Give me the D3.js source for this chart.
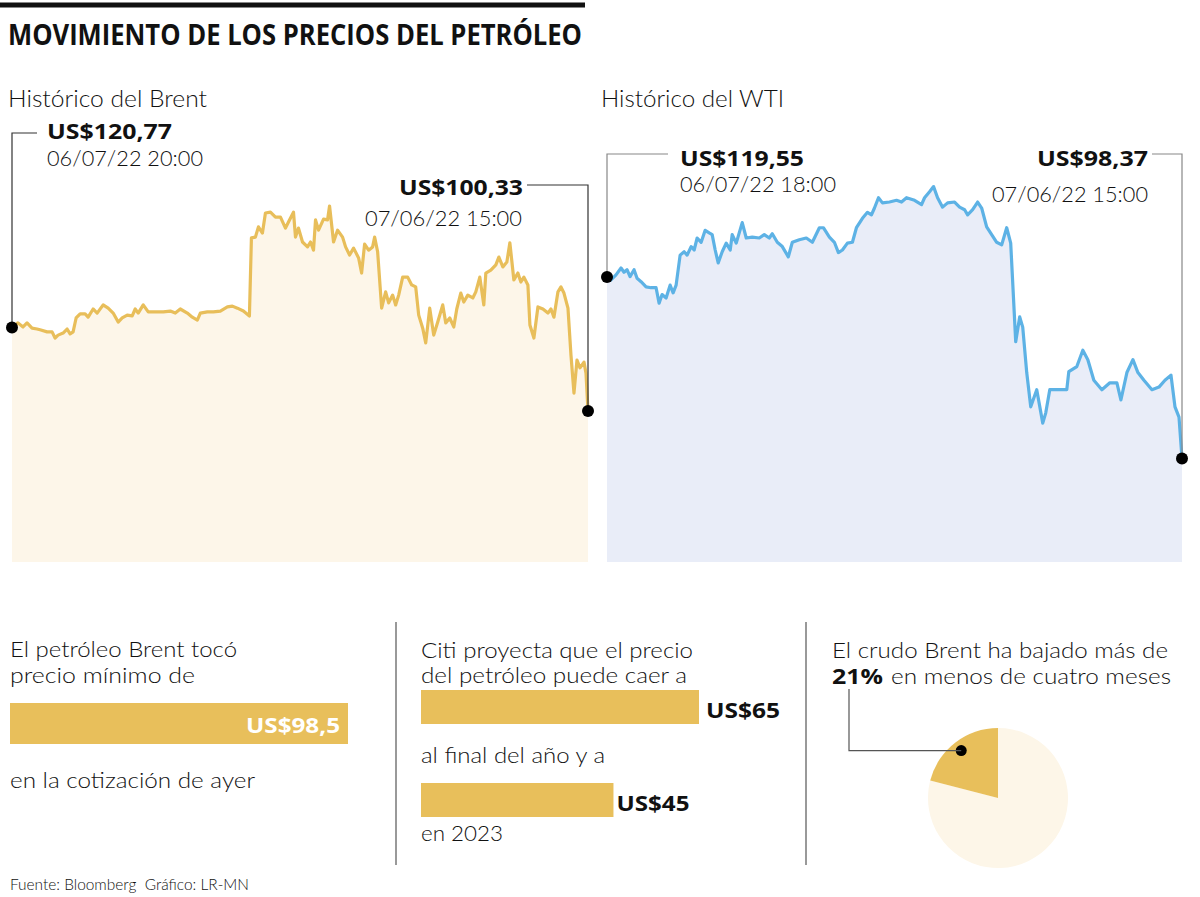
<!DOCTYPE html>
<html>
<head>
<meta charset="utf-8">
<script src="https://cdn.jsdelivr.net/npm/d3@7"></script>
<style>
  body { margin: 0; background: #fff; }
  text { font-family: "Open Sans", "Noto Sans", sans-serif; fill: #111; }
  text.light { font-family: "Lato", "Open Sans", sans-serif; font-weight: 300; }
</style>
</head>
<body>
<script>
// Histórico del Brent: t = muestra (posición en el periodo), precio en US$
const brentT = [0,6,11,15,20,25,28,35,40,43,46,51,55,58,61,64,68,73,76,81,
  85,91,96,101,106,110,115,120,123,126,131,136,145,151,158,163,168,175,180,185,
  188,195,201,208,215,220,225,231,237,239,243,246,250,253,258,263,268,273,276,281,
  283,286,290,295,298,301,303,306,311,315,317,321,325,330,333,337,341,346,349,352,
  356,360,362,365,369,373,376,380,383,386,390,395,399,403,406,410,413,417,421,425,
  430,433,437,441,444,448,451,455,460,463,467,471,473,478,483,486,490,494,497,501,
  505,508,511,515,517,521,525,530,535,538,541,545,548,551,555,558,561,564,567,571,
  573,575];
const brentP = [120.77,121.9,120.9,121.9,120.6,120.4,120.2,119.7,119.7,118.2,
  118.9,119.4,120.4,119.2,119.7,123.1,124.1,124.1,123.3,125.3,
  124.3,126.3,125.5,124.3,122.1,123.1,123.8,123.6,125.3,124.3,
  126.3,124.6,124.6,124.6,124.8,124.3,125.3,124.3,123.3,122.6,
  124.3,124.6,124.6,124.8,125.8,126.0,125.5,124.8,123.6,142.7,
  142.9,145.4,143.9,148.8,149.0,147.8,147.8,145.1,146.6,149.0,
  142.9,145.1,141.7,140.5,141.7,139.7,147.1,144.6,147.3,147.1,
  150.5,141.7,144.6,142.9,140.5,138.5,140.2,137.8,134.1,141.2,
  139.7,140.5,142.9,139.3,125.5,129.5,126.8,128.7,126.3,128.7,
  133.1,133.1,131.2,130.7,123.8,120.6,117.0,125.5,118.9,122.1,
  126.3,121.9,123.1,120.9,125.3,129.2,127.0,128.7,128.0,129.5,
  133.1,126.3,134.1,134.8,136.1,138.0,135.6,136.8,141.5,132.4,
  134.1,131.9,133.1,131.2,121.4,118.2,125.8,125.3,124.3,125.3,
  123.3,129.5,130.7,129.2,125.5,114.0,104.7,112.8,110.9,112.3,
  109.6,100.33];

// Histórico del WTI
const wtiT = [0,4,9,14,17,20,23,27,30,34,39,44,49,52,55,59,63,66,69,73,
  77,80,84,87,90,94,98,102,105,108,111,115,119,123,125,129,135,139,145,152,
  157,162,165,170,175,181,185,192,199,205,212,216,222,227,231,235,240,245,249,255,
  260,264,267,271,275,282,289,294,299,307,314,317,322,326,330,335,340,347,352,357,
  360,365,370,374,379,384,389,394,399,403,408,412,415,419,423,429,435,438,442,450,
  459,461,469,475,480,486,494,502,509,513,519,525,530,536,544,551,557,563,567,571,
  574];
const wtiP = [119.55,119.2,119.8,120.6,120.1,120.4,119.6,120.4,119.4,119.0,
  118.4,118.3,118.3,116.5,117.5,117.1,118.6,117.7,118.6,122.1,
  122.5,122.1,123.1,122.7,124.1,123.6,125.0,124.7,124.5,122.7,
  121.2,122.5,123.5,122.7,124.5,123.5,125.9,124.1,124.2,124.1,
  124.5,124.1,124.6,123.6,123.1,121.9,123.6,123.9,124.1,123.6,
  125.3,125.3,124.2,123.6,122.4,122.7,123.5,123.6,125.3,126.4,
  127.1,126.8,127.6,128.8,128.2,128.3,128.5,128.3,128.8,128.5,
  128.0,128.8,129.5,130.1,128.8,127.7,128.2,128.3,127.7,127.4,
  126.8,127.4,128.3,127.6,125.4,124.5,123.6,123.3,125.3,123.5,
  112.0,114.9,113.7,108.4,104.4,106.4,102.5,103.7,106.4,106.4,
  106.4,108.5,109.1,111.0,109.9,107.5,106.4,107.2,107.2,105.2,
  108.4,109.9,108.4,107.5,106.4,106.7,107.5,108.1,104.4,103.2,
  98.37];

// Panel inferior
const minimoBrent = 98.5;
const citiLabels = ["US$65", "US$45"];
const citiValues = [65, 45];
const caidaBrent = [79, 21];

const gold = "#E8BF5B";
const svg = d3.select("body").append("svg")
  .attr("width", 1200).attr("height", 897)
  .style("background", "#fff");

function txt(x, y, s, size, weight, len, anchor, fill) {
  const t = svg.append("text")
    .attr("x", x).attr("y", y)
    .attr("font-size", size)
    .attr("text-anchor", anchor || "start")
    .text(s);
  if (weight === 300) t.attr("class", "light");
  else t.attr("font-weight", weight);
  if (len) t.attr("textLength", len).attr("lengthAdjust", "spacingAndGlyphs");
  if (fill) t.style("fill", fill);
  return t;
}

// Título
svg.append("rect").attr("x", 0).attr("y", 2.5).attr("width", 585).attr("height", 5).attr("fill", "#111");
txt(8, 45, "MOVIMIENTO DE LOS PRECIOS DEL PETRÓLEO", 28, 700, 574);

// Gráficos de área
function drawArea(cfg) {
  const data = cfg.t.map((t, i) => ({ t: t, p: cfg.p[i] }));
  const x = d3.scaleLinear().domain([0, d3.max(cfg.t)]).range([cfg.x0, cfg.x1]);
  const y = d3.scaleLinear().domain([cfg.pEnd, cfg.pStart]).range([cfg.yEnd, cfg.yStart]);
  const g = svg.append("g");

  g.append("path").datum(data)
    .attr("fill", cfg.fill)
    .attr("d", d3.area().x(d => x(d.t)).y0(cfg.bottom).y1(d => y(d.p)));

  g.append("path").datum(data)
    .attr("fill", "none")
    .attr("stroke", cfg.line)
    .attr("stroke-width", 3.2)
    .attr("stroke-linejoin", "round")
    .attr("d", d3.line().x(d => x(d.t)).y(d => y(d.p)));

  const first = data[0], last = data[data.length - 1];
  // líneas guía
  g.append("polyline")
    .attr("points", [[x(first.t), y(first.p)], [x(first.t), cfg.leadStartY], [cfg.leadStartX, cfg.leadStartY]].join(" "))
    .attr("fill", "none").attr("stroke", cfg.lead).attr("stroke-width", 1.2);
  g.append("polyline")
    .attr("points", [[cfg.leadEndX, cfg.leadEndY], [x(last.t), cfg.leadEndY], [x(last.t), y(last.p)]].join(" "))
    .attr("fill", "none").attr("stroke", cfg.lead).attr("stroke-width", 1.2);

  g.selectAll("circle").data([first, last]).join("circle")
    .attr("cx", d => x(d.t)).attr("cy", d => y(d.p)).attr("r", 6).attr("fill", "#000");
}

drawArea({ t: brentT, p: brentP, x0: 12, x1: 588, bottom: 562,
  pStart: brentP[0], pEnd: brentP[brentP.length - 1], yStart: 327.5, yEnd: 411,
  fill: "#FDF6E9", line: "#E8BE5A", lead: "#333",
  leadStartY: 133, leadStartX: 37, leadEndY: 185, leadEndX: 527 });

drawArea({ t: wtiT, p: wtiP, x0: 607, x1: 1182, bottom: 562,
  pStart: wtiP[0], pEnd: wtiP[wtiP.length - 1], yStart: 277, yEnd: 458.5,
  fill: "#E9EDF8", line: "#5DB2E5", lead: "#888",
  leadStartY: 154, leadStartX: 668, leadEndY: 154, leadEndX: 1152 });

// Rótulos de las áreas
txt(8, 107, "Histórico del Brent", 23, 300, 199);
txt(47, 139, "US$120,77", 21, 700, 125);
txt(47, 166, "06/07/22 20:00", 22, 300, 156);
txt(523, 195, "US$100,33", 21, 700, 124, "end");
txt(522, 226, "07/06/22 15:00", 22, 300, 157, "end");

txt(601, 107, "Histórico del WTI", 23, 300, 183);
txt(680, 166, "US$119,55", 21, 700, 124);
txt(680, 192, "06/07/22 18:00", 22, 300, 156);
txt(1148, 166, "US$98,37", 21, 700, 111, "end");
txt(1148, 202, "07/06/22 15:00", 22, 300, 156, "end");

// Separadores
svg.append("line").attr("x1", 396).attr("x2", 396).attr("y1", 622).attr("y2", 865).attr("stroke", "#555").attr("stroke-width", 1.2);
svg.append("line").attr("x1", 806).attr("x2", 806).attr("y1", 622).attr("y2", 865).attr("stroke", "#555").attr("stroke-width", 1.2);

// Panel 1: mínimo del Brent
const xMin = d3.scaleLinear().domain([0, minimoBrent]).range([0, 338]);
txt(10, 657, "El petróleo Brent tocó", 22, 300, 227);
txt(10, 683, "precio mínimo de", 22, 300, 185);
svg.append("rect").attr("x", 10).attr("y", 703).attr("width", xMin(minimoBrent)).attr("height", 41).attr("fill", gold);
txt(10 + xMin(minimoBrent) - 8, 733, "US$" + String(minimoBrent).replace(".", ","), 22, 700, 94, "end", "#fff");
txt(10, 788, "en la cotización de ayer", 22, 300, 245);

// Panel 2: proyección de Citi
const xCiti = d3.scaleLinear().domain([0, citiValues[0]]).range([0, 278]);
const citiY = [690, 783];
txt(421, 658, "Citi proyecta que el precio", 22, 300, 272);
txt(421, 683, "del petróleo puede caer a", 22, 300, 266);
svg.selectAll("rect.citi").data(citiValues).join("rect").attr("class", "citi")
  .attr("x", 421).attr("y", (d, i) => citiY[i])
  .attr("width", d => xCiti(d)).attr("height", 34).attr("fill", gold);
svg.selectAll("text.citi").data(citiValues).join("text").attr("class", "citi")
  .attr("x", d => 421 + xCiti(d) + (d === 65 ? 7 : 3))
  .attr("y", (d, i) => citiY[i] + 28)
  .attr("font-size", 22).attr("font-weight", 700)
  .attr("textLength", (d, i) => i === 0 ? 74 : 73).attr("lengthAdjust", "spacingAndGlyphs")
  .text((d, i) => citiLabels[i]);
txt(421, 763, "al final del año y a", 22, 300, 184);
txt(421, 841, "en 2023", 22, 300, 82);

// Panel 3: caída del Brent
txt(832, 658, "El crudo Brent ha bajado más de", 22, 300, 336);
txt(832, 684, "21%", 21, 700, 51);
txt(891, 684, "en menos de cuatro meses", 22, 300, 280);

const pie = d3.pie().sort(null)(caidaBrent);
const arc = d3.arc().innerRadius(0).outerRadius(70);
const pg = svg.append("g").attr("transform", "translate(998,798)");
pg.selectAll("path").data(pie).join("path")
  .attr("d", arc)
  .attr("fill", (d, i) => i === 1 ? gold : "#FDF6E8");
const dotPos = d3.arc().innerRadius(60).outerRadius(60).centroid(pie[1]);
svg.append("polyline")
  .attr("points", [[998 + dotPos[0], 798 + dotPos[1]], [849, 798 + dotPos[1]], [849, 689]].join(" "))
  .attr("fill", "none").attr("stroke", "#555").attr("stroke-width", 1.2);
pg.append("circle").attr("cx", dotPos[0]).attr("cy", dotPos[1]).attr("r", 5.5).attr("fill", "#000");

// Fuente
txt(10, 890, "Fuente: Bloomberg  Gráfico: LR-MN", 15, 300, 239).style("white-space", "pre");
</script>
</body>
</html>
